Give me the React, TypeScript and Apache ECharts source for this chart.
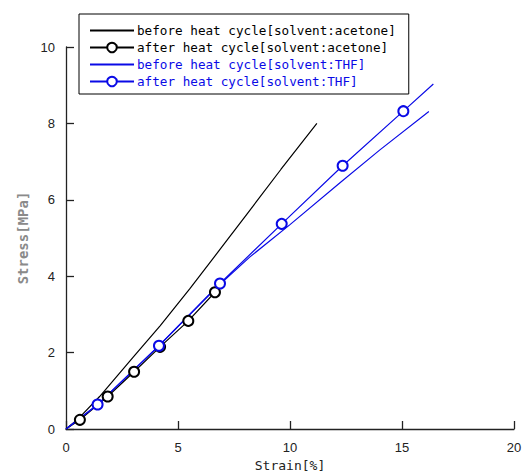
import React, { useEffect, useRef } from "react";
import * as echarts from "echarts";

const seriesNames = [
  "before heat cycle[solvent:acetone]",
  "after heat cycle[solvent:acetone]",
  "before heat cycle[solvent:THF]",
  "after heat cycle[solvent:THF]",
];

const beforeAcetone: [number, number][] = [
  [0, 0], [0.5, 0.24], [1.5, 0.85], [3.0, 1.88], [4.2, 2.7], [5.54, 3.68],
  [6.9, 4.72], [8.07, 5.62], [9.6, 6.8], [11.2, 8.0],
];

const afterAcetone: [number, number][] = [
  [0, 0], [0.62, 0.24], [1.86, 0.85], [3.04, 1.5], [4.2, 2.15], [5.46, 2.83],
  [6.65, 3.58], [6.85, 3.68],
];
const afterAcetoneMarkers = [false, true, true, true, true, true, true, false];

const beforeTHF: [number, number][] = [
  [0, 0], [1.4, 0.63], [4.1, 2.15], [6.8, 3.75], [8.2, 4.5], [10, 5.35],
  [12.3, 6.48], [14, 7.3], [16.2, 8.31],
];

const afterTHF: [number, number][] = [
  [0, 0], [1.41, 0.64], [4.15, 2.18], [6.875, 3.81], [9.63, 5.37],
  [12.35, 6.89], [15.06, 8.32], [16.4, 9.03],
];
const afterTHFMarkers = [false, true, true, true, true, true, true, false];

const xTicks = [0, 5, 10, 15, 20];
const yTicks = [0, 2, 4, 6, 8, 10];

const BLUE = "#0a0ae6";

export default function App() {
  const ref = useRef<HTMLDivElement>(null);
  useEffect(() => {
    if (!ref.current) return;
    const chart = echarts.init(ref.current, undefined, { renderer: "svg" });
    const markerData = (d: [number, number][], m: boolean[]) =>
      d.map((p, i) => (m[i] ? { value: p } : { value: p, symbol: "none" }));
    const hiddenSymbol = { color: "transparent", borderColor: "transparent", opacity: 0 };
    chart.setOption({
      animation: false,
      backgroundColor: "#ffffff",
      grid: {
        left: 66,
        top: 47,
        right: 17,
        bottom: 45,
        containLabel: false,
        outerBoundsMode: "none",
      },
      legend: {
        orient: "vertical",
        left: 79,
        top: 14,
        padding: [10, 13, 6, 10],
        itemWidth: 44,
        itemHeight: 12,
        itemGap: 4,
        borderColor: "#000",
        borderWidth: 1,
        backgroundColor: "#fff",
        textStyle: {
          fontFamily: "DejaVu Sans Mono",
          fontSize: 12.65,
          padding: [0, 0, 0, -2],
        },
        data: [
          { name: seriesNames[0], textStyle: { color: "#000" }, itemStyle: hiddenSymbol },
          { name: seriesNames[1], textStyle: { color: "#000" } },
          { name: seriesNames[2], textStyle: { color: BLUE }, itemStyle: hiddenSymbol },
          { name: seriesNames[3], textStyle: { color: BLUE } },
        ],
      },
      xAxis: {
        type: "value",
        min: xTicks[0],
        max: xTicks[xTicks.length - 1],
        interval: 5,
        name: "Strain[%]",
        nameLocation: "middle",
        nameGap: 30,
        nameTextStyle: { fontFamily: "DejaVu Sans Mono", fontSize: 13, color: "#222" },
        axisLine: { show: true, onZero: false, lineStyle: { color: "#222", width: 1.3 } },
        axisTick: { show: true, inside: true, length: 8, lineStyle: { color: "#222", width: 1.3 } },
        axisLabel: { margin: 12, fontFamily: "Liberation Sans", fontSize: 13, color: "#222" },
        splitLine: { show: false },
      },
      yAxis: {
        type: "value",
        min: yTicks[0],
        max: yTicks[yTicks.length - 1],
        interval: 2,
        name: "Stress[MPa]",
        nameLocation: "middle",
        nameRotate: 90,
        nameGap: 22,
        nameTextStyle: {
          fontFamily: "DejaVu Sans Mono",
          fontSize: 14,
          fontWeight: "bold",
          color: "#8a8a8a",
        },
        axisLine: { show: true, onZero: false, lineStyle: { color: "#222", width: 1.3 } },
        axisTick: { show: true, inside: true, length: 8, lineStyle: { color: "#222", width: 1.3 } },
        axisLabel: { margin: 11, fontFamily: "Liberation Sans", fontSize: 13, color: "#222" },
        splitLine: { show: false },
      },
      series: [
        {
          name: seriesNames[0],
          type: "line",
          data: beforeAcetone,
          showSymbol: false,
          symbol: "none",
          lineStyle: { color: "#000", width: 1.2 },
          itemStyle: { color: "#000" },
        },
        {
          name: seriesNames[1],
          type: "line",
          data: markerData(afterAcetone, afterAcetoneMarkers),
          symbol: "emptyCircle",
          symbolSize: 10,
          lineStyle: { color: "#000", width: 1.2 },
          itemStyle: { color: "#000", borderWidth: 1.2 },
        },
        {
          name: seriesNames[2],
          type: "line",
          data: beforeTHF,
          showSymbol: false,
          symbol: "none",
          lineStyle: { color: BLUE, width: 1.2 },
          itemStyle: { color: BLUE },
        },
        {
          name: seriesNames[3],
          type: "line",
          data: markerData(afterTHF, afterTHFMarkers),
          symbol: "emptyCircle",
          symbolSize: 10,
          lineStyle: { color: BLUE, width: 1.2 },
          itemStyle: { color: BLUE, borderWidth: 1.2 },
        },
      ],
    });
    return () => chart.dispose();
  }, []);
  return (
    <div
      ref={ref}
      style={{ position: "absolute", left: 0, top: 0, width: 531, height: 474 }}
    />
  );
}
